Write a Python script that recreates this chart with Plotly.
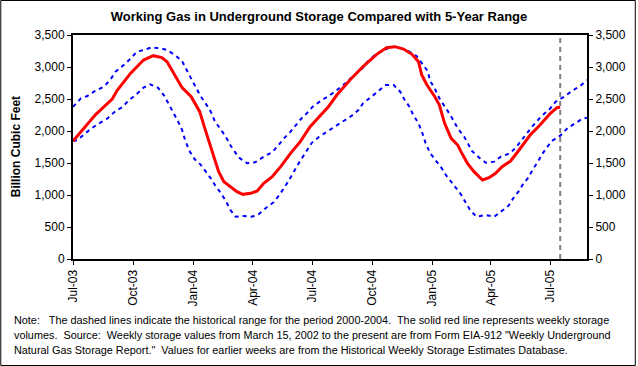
import plotly.graph_objects as go

# Weekly working gas in storage (Bcf)
red_dates = ["2003-07-01", "2003-07-18", "2003-08-05", "2003-08-30", "2003-09-07", "2003-09-27",
             "2003-10-17", "2003-11-01", "2003-11-14", "2003-11-22", "2003-12-02", "2003-12-15",
             "2003-12-29", "2004-01-03", "2004-01-11", "2004-01-18", "2004-01-26", "2004-02-02",
             "2004-02-09", "2004-02-17", "2004-02-27", "2004-03-08", "2004-03-17", "2004-03-29",
             "2004-04-08", "2004-04-18", "2004-05-01", "2004-05-14", "2004-05-29", "2004-06-13",
             "2004-06-28", "2004-07-14", "2004-07-26", "2004-08-08", "2004-08-28", "2004-09-17",
             "2004-10-08", "2004-10-23", "2004-11-05", "2004-11-18", "2004-12-01", "2004-12-11",
             "2004-12-16", "2004-12-24", "2005-01-05", "2005-01-12", "2005-01-20", "2005-01-30",
             "2005-02-09", "2005-02-14", "2005-02-24", "2005-03-06", "2005-03-19", "2005-03-29",
             "2005-04-08", "2005-04-18", "2005-05-01", "2005-05-14", "2005-05-31", "2005-06-15",
             "2005-07-01", "2005-07-11", "2005-07-16"]
red_values = [1844, 2042, 2260, 2500, 2640, 2900,
              3109, 3177, 3146, 3083, 2900, 2677,
              2536, 2448, 2302, 2068, 1807, 1573,
              1365, 1208, 1130, 1052, 1010, 1026,
              1062, 1182, 1286, 1443, 1651, 1833,
              2068, 2250, 2380, 2562, 2797, 3005,
              3198, 3302, 3318, 3281, 3198, 3083,
              2875, 2719, 2536, 2406, 2120, 1885,
              1781, 1677, 1495, 1365, 1234, 1271,
              1338, 1443, 1531, 1703, 1937, 2094,
              2276, 2364, 2370]

# 5-year maximum (2000-2004)
upper_dates = ["2003-07-01", "2003-07-13", "2003-07-23", "2003-08-02", "2003-08-17", "2003-08-27",
               "2003-09-04", "2003-09-12", "2003-09-25", "2003-10-07", "2003-10-17", "2003-10-30",
               "2003-11-12", "2003-11-22", "2003-12-04", "2003-12-15", "2003-12-22", "2003-12-30",
               "2004-01-12", "2004-01-20", "2004-01-28", "2004-02-03", "2004-02-12", "2004-02-20",
               "2004-02-26", "2004-03-05", "2004-03-11", "2004-03-24", "2004-04-05", "2004-04-18",
               "2004-05-01", "2004-05-10", "2004-05-19", "2004-05-29", "2004-06-06", "2004-06-14",
               "2004-06-23", "2004-07-02", "2004-07-16", "2004-07-25", "2004-08-07", "2004-08-18",
               "2004-08-29", "2004-09-07", "2004-09-17", "2004-09-25", "2004-10-08", "2004-10-18",
               "2004-10-31", "2004-11-13", "2004-11-25", "2004-12-08", "2004-12-17", "2004-12-25",
               "2004-12-29", "2005-01-06", "2005-01-12", "2005-01-20", "2005-01-27", "2005-02-03",
               "2005-02-09", "2005-02-19", "2005-03-03", "2005-03-14", "2005-03-24", "2005-04-06",
               "2005-04-16", "2005-04-30", "2005-05-09", "2005-05-18", "2005-06-03", "2005-06-18",
               "2005-06-30", "2005-07-09", "2005-07-22", "2005-08-03", "2005-08-16", "2005-08-26"]
upper_values = [2377, 2510, 2547, 2614, 2693, 2797,
                2927, 2989, 3109, 3240, 3266, 3307,
                3291, 3266, 3187, 3094, 2953, 2797,
                2550, 2432, 2302, 2156, 2016, 1911,
                1792, 1677, 1583, 1495, 1510, 1599,
                1667, 1771, 1885, 1989, 2094, 2187,
                2276, 2380, 2484, 2536, 2630, 2719,
                2823, 2901, 2989, 3094, 3213, 3255,
                3318, 3302, 3250, 3172, 3057, 2937,
                2781, 2640, 2510, 2396, 2276, 2156,
                2042, 1911, 1687, 1583, 1505, 1521,
                1599, 1651, 1740, 1859, 2068, 2240,
                2344, 2458, 2536, 2625, 2708, 2797]

# 5-year minimum (2000-2004)
lower_dates = ["2003-07-01", "2003-07-08", "2003-07-18", "2003-07-28", "2003-08-10", "2003-08-23",
               "2003-09-04", "2003-09-14", "2003-09-25", "2003-10-05", "2003-10-17", "2003-10-27",
               "2003-11-08", "2003-11-17", "2003-11-24", "2003-12-01", "2003-12-09", "2003-12-15",
               "2003-12-20", "2003-12-27", "2004-01-03", "2004-01-12", "2004-01-20", "2004-01-28",
               "2004-02-04", "2004-02-12", "2004-02-20", "2004-02-27", "2004-03-06", "2004-03-18",
               "2004-03-31", "2004-04-10", "2004-04-22", "2004-05-03", "2004-05-12", "2004-05-26",
               "2004-06-09", "2004-06-18", "2004-06-30", "2004-07-12", "2004-07-25", "2004-08-07",
               "2004-08-18", "2004-08-31", "2004-09-10", "2004-09-17", "2004-09-30", "2004-10-10",
               "2004-10-22", "2004-11-03", "2004-11-13", "2004-11-19", "2004-11-27", "2004-12-03",
               "2004-12-11", "2004-12-17", "2004-12-22", "2004-12-29", "2005-01-07", "2005-01-15",
               "2005-01-22", "2005-01-30", "2005-02-07", "2005-02-14", "2005-02-21", "2005-03-01",
               "2005-03-10", "2005-03-24", "2005-04-06", "2005-04-16", "2005-04-28", "2005-05-05",
               "2005-05-13", "2005-05-20", "2005-05-28", "2005-06-05", "2005-06-12", "2005-06-18",
               "2005-06-26", "2005-07-03", "2005-07-16", "2005-07-28", "2005-08-08", "2005-08-18",
               "2005-08-26"]
lower_values = [1844, 1859, 1948, 2031, 2120, 2198,
                2312, 2370, 2484, 2562, 2677, 2729,
                2677, 2562, 2432, 2302, 2146, 2016,
                1844, 1677, 1562, 1479, 1375, 1260,
                1146, 1036, 906, 766, 661, 672,
                661, 698, 802, 885, 1000, 1219,
                1469, 1614, 1807, 1911, 2000, 2083,
                2161, 2240, 2328, 2432, 2536, 2614,
                2719, 2719, 2614, 2500, 2380, 2250,
                2120, 1963, 1807, 1651, 1531, 1427,
                1312, 1208, 1115, 1010, 885, 750,
                661, 687, 661, 740, 833, 948,
                1052, 1167, 1271, 1417, 1521, 1635,
                1740, 1844, 1927, 2052, 2120, 2187,
                2208]

x_range = ["2003-07-01", "2005-08-26"]
y_range = [0, 3500]

title_text = "Working Gas in Underground Storage Compared with 5-Year Range"
y_title = "Billion Cubic Feet"
note_lines = [
    "Note:   The dashed lines indicate the historical range for the period 2000-2004.  The solid red line represents weekly storage",
    "volumes.  Source:  Weekly storage values from March 15, 2002 to the present are from Form EIA-912 \"Weekly Underground",
    "Natural Gas Storage Report.\"  Values for earlier weeks are from the Historical Weekly Storage Estimates Database.",
]

W, H = 638, 366
L, R, T, B = 73, 49, 35, 107
PW, PH = W - L - R, H - T - B

def px(xp):
    return (xp - L) / PW

def py(yp):
    return (H - B - yp) / PH

FONT = "Liberation Sans, Arial, sans-serif"
blue = "#0000FF"

fig = go.Figure()
fig.add_trace(go.Scatter(x=upper_dates, y=upper_values, mode="lines",
                         line=dict(color=blue, width=2, dash="4px,4px"), showlegend=False))
fig.add_trace(go.Scatter(x=lower_dates, y=lower_values, mode="lines",
                         line=dict(color=blue, width=2, dash="4px,4px"), showlegend=False))
fig.add_trace(go.Scatter(x=red_dates, y=red_values, mode="lines",
                         line=dict(color="#FF0000", width=3), showlegend=False))
# invisible trace to carry the right-hand axis
fig.add_trace(go.Scatter(x=red_dates, y=red_values, mode="lines", yaxis="y2",
                         line=dict(color="rgba(0,0,0,0)", width=0), showlegend=False,
                         hoverinfo="skip"))

fig.add_shape(type="line", xref="x", yref="paper", x0=red_dates[-1], x1=red_dates[-1],
              y0=0, y1=1, line=dict(color="#808080", width=2, dash="5px,4px"))
# outer chart border
fig.add_shape(type="rect", xref="paper", yref="paper",
              x0=px(0.5), x1=px(W - 0.5), y0=py(H - 0.5), y1=py(0.5),
              line=dict(color="black", width=1))

fig.add_annotation(text=f"<b>{y_title}</b>", xref="paper", yref="paper", x=px(16), y=0.5,
                   textangle=-90, showarrow=False, font=dict(family=FONT, size=12, color="black"),
                   xanchor="center", yanchor="middle")
for i, line in enumerate(note_lines):
    fig.add_annotation(text=line, xref="paper", yref="paper", x=px(12), y=py(319.5 + 15 * i),
                       showarrow=False, xanchor="left", yanchor="middle",
                       font=dict(family=FONT, size=10.85, color="black"))

axis_common = dict(showline=True, linecolor="black", linewidth=2, ticks="outside",
                   ticklen=4, tickcolor="black", tickwidth=1, showgrid=False, zeroline=False,
                   tickfont=dict(family=FONT, size=12, color="black"))

fig.update_layout(
    width=W, height=H,
    margin=dict(l=L, r=R, t=T, b=B),
    paper_bgcolor="white", plot_bgcolor="white",
    title=dict(text=f"<b>{title_text}</b>", x=0.5, xanchor="center", y=1 - 16 / H,
               yanchor="middle", font=dict(family=FONT, size=13, color="black")),
    xaxis=dict(range=x_range, type="date", dtick="M3", tick0="2003-07-01",
               tickformat="%b-%y", tickangle=-90, mirror=True, **axis_common),
    yaxis=dict(range=y_range, dtick=500, tickformat=",", mirror=True, **axis_common),
    yaxis2=dict(range=y_range, dtick=500, tickformat=",", overlaying="y", side="right",
                **axis_common),
    showlegend=False,
)

fig.write_html("out.html", config={"displayModeBar": False},
               post_script="document.body.style.margin='0';")
